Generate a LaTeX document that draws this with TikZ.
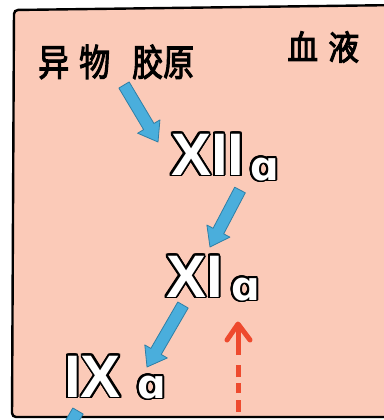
\documentclass[tikz,border=0pt]{standalone}
\usepackage{fontspec}
\usepackage{contour}
\usetikzlibrary{calc}
\newfontfamily\cjk[FakeBold=3]{Noto Sans CJK SC}
\newfontfamily\numfont{Liberation Sans Bold}
\newfontfamily\dvfont{DejaVu Sans Bold}
\definecolor{salmon}{HTML}{FBCAB8}
\definecolor{arrowblue}{HTML}{4AAEDC}
\definecolor{arrowedge}{HTML}{2F7FA6}
\definecolor{arrowred}{HTML}{EE4A2E}
\contourlength{1.8pt}
\contournumber{32}
\tikzset{
  numeral/.style={inner sep=0pt, anchor=base west, text=white,
    font=\fontsize{60}{60}\selectfont\numfont},
  subsc/.style={inner sep=0pt, anchor=base west, text=white,
    font=\fontsize{40}{40}\selectfont\dvfont},
  cjklabel/.style={inner sep=0pt, anchor=base west, text=black,
    font=\fontsize{31}{31}\selectfont\cjk},
  fatfill/.style={fill=arrowblue, draw=arrowedge, line width=0.8pt, line join=round},
  redline/.style={draw=arrowred, line width=5pt}
}
\newcommand\fatarrow[3]{% #1 tail, #2 tip, #3 id
  \coordinate (#3h) at ($(#2)!18pt!(#1)$);
  \path[fatfill]
    ($(#1)!6pt!90:(#2)$) -- ($(#3h)!6pt!90:(#2)$) -- ($(#3h)!13pt!90:(#2)$) -- (#2)
    -- ($(#3h)!13pt!-90:(#2)$) -- ($(#3h)!6pt!-90:(#2)$) -- ($(#1)!6pt!-90:(#2)$) -- cycle;
}
\begin{document}
\begin{tikzpicture}[x=1pt,y=-1pt]
\useasboundingbox (0,0) rectangle (383,420);
\fill[white] (0,0) rectangle (383,420);
% blood box
\fill[salmon] (14,10) -- (400,5) -- (400,417) -- (12,417) -- cycle;
\draw[line width=2.4pt, rounded corners=4pt] (400,5) -- (14,10) -- (12,417) -- (400,417);
% texts
\node[cjklabel] (yiwu) at (38,76) {\scalebox{1}[1.2]{异\kern10pt 物\kern22pt 胶\kern0pt 原}};
\node[cjklabel] (xueye) at (287,60) {\scalebox{1}[1.1]{血\kern10pt 液}};
% numerals
\node[numeral] (xii) at (171,175) {\contour{black}{XII}};
\node[subsc] (xiia) at (250,180) {\contour{black}{ɑ}};
\node[numeral] (xi) at (166,297) {\contour{black}{XI}};
\node[subsc] (xia) at (231,300) {\contour{black}{ɑ}};
\node[numeral] (ix) at (64,397) {\contour{black}{IX}};
\node[subsc] (ixa) at (137,398) {\contour{black}{ɑ}};
% blue arrows
\coordinate (a1s) at (124,85);
\coordinate (a1e) at (158,142);
\coordinate (a2s) at (240,190);
\coordinate (a2e) at (210,247);
\coordinate (a3s) at (183,305);
\coordinate (a3e) at (147,367);
\coordinate (a4s) at (78,411);
\coordinate (a4e) at (40,476);
\fatarrow{a1s}{a1e}{p1}
\fatarrow{a2s}{a2e}{p2}
\fatarrow{a3s}{a3e}{p3}
\fatarrow{a4s}{a4e}{p4}
% red dashed arrow
\coordinate (rb) at (238,412);
\coordinate (rt) at (238,324);
\draw[redline, dash pattern=on 12pt off 7pt on 10pt off 6pt on 12pt off 10pt on 40pt] (rb) -- (rt);
\draw[redline, line cap=round, line join=round] ($(rt)+(-11,16)$) -- (rt) -- ($(rt)+(12,16)$);
\end{tikzpicture}
\end{document}
